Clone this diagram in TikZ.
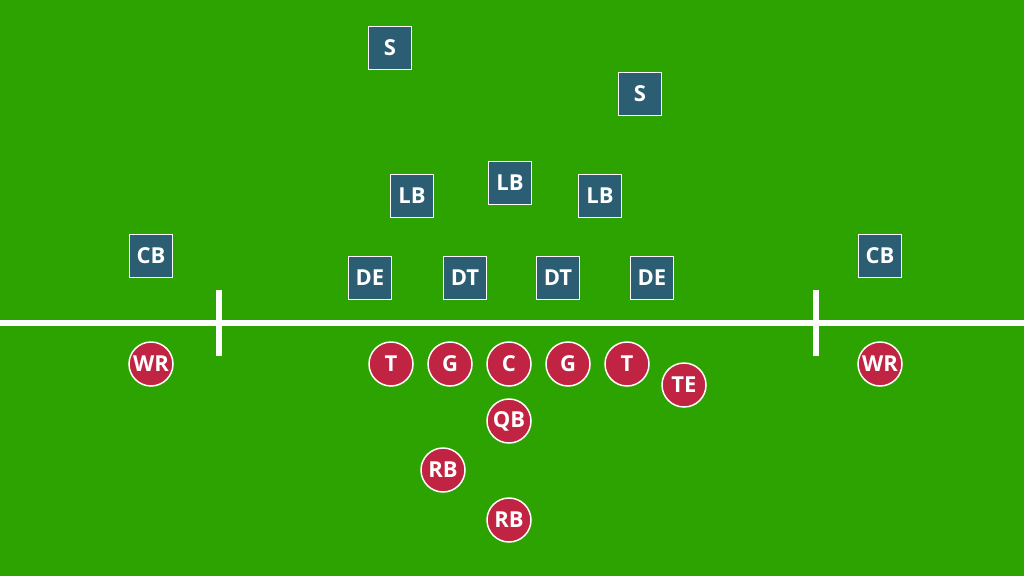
\documentclass[tikz,border=0pt]{standalone}
\usepackage{fontspec}
\setmainfont{Open Sans}
\definecolor{field}{RGB}{44,163,0}
\definecolor{defc}{RGB}{44,94,115}
\definecolor{offc}{RGB}{192,36,66}
\begin{document}
\begin{tikzpicture}[x=1pt,y=-1pt,
  def/.style={draw=white,line width=1.5pt,fill=defc,minimum width=43pt,minimum height=43pt,inner sep=0pt,text=white,font=\bfseries\fontsize{22}{26}\selectfont},
  off/.style={circle,draw=white,line width=1.5pt,fill=offc,minimum size=44pt,inner sep=0pt,text=white,font=\bfseries\fontsize{22}{26}\selectfont},
  mark line/.style={draw=white,line width=6.5pt}]
\fill[field] (0,0) rectangle (1024,576);
\useasboundingbox (0,0) rectangle (1024,576);
\coordinate (l1) at (0,323);
\coordinate (l2) at (1024,323);
\draw[mark line] (l1) -- (l2);
\coordinate (h1a) at (219,290); \coordinate (h1b) at (219,356);
\coordinate (h2a) at (816,290); \coordinate (h2b) at (816,356);
\draw[draw=white,line width=6pt] (h1a) -- (h1b);
\draw[draw=white,line width=6pt] (h2a) -- (h2b);
% defense
\node[def] (s1) at (390,48) {S};
\node[def] (s2) at (640,94) {S};
\node[def] (lb1) at (412,196) {LB};
\node[def] (lb2) at (510,183) {LB};
\node[def] (lb3) at (600,196) {LB};
\node[def] (cb1) at (151,256) {CB};
\node[def] (cb2) at (880,256) {CB};
\node[def] (de1) at (370,278) {DE};
\node[def] (dt1) at (465,278) {DT};
\node[def] (dt2) at (558,278) {DT};
\node[def] (de2) at (652,278) {DE};
% offense
\node[off] (wr1) at (151,364) {WR};
\node[off] (t1) at (391,364) {T};
\node[off] (g1) at (450,364) {G};
\node[off] (c) at (509,364) {C};
\node[off] (g2) at (568,364) {G};
\node[off] (t2) at (627,364) {T};
\node[off] (te) at (684,385) {TE};
\node[off] (wr2) at (880,364) {WR};
\node[off] (qb) at (509,421) {QB};
\node[off] (rb1) at (443,470) {RB};
\node[off] (rb2) at (509,520) {RB};
\end{tikzpicture}
\end{document}
